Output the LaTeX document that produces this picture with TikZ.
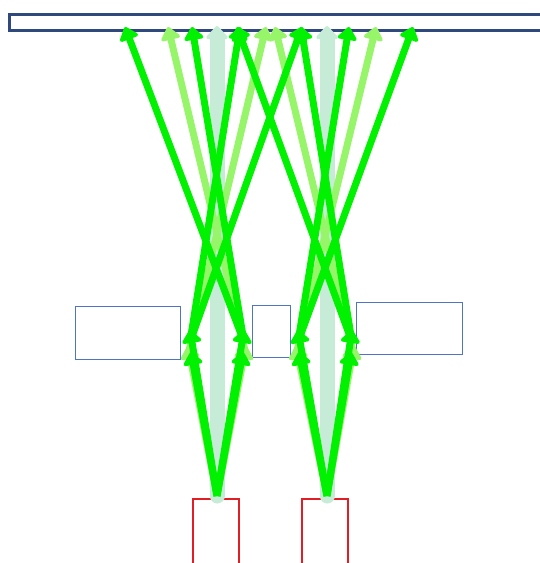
\documentclass[tikz,border=0pt]{standalone}
\usetikzlibrary{arrows.meta}
\definecolor{bright}{RGB}{0,242,0}
\definecolor{lightg}{RGB}{150,245,105}
\definecolor{mint}{RGB}{198,236,216}
\definecolor{navy}{RGB}{47,72,125}
\definecolor{boxblue}{RGB}{80,115,195}
\definecolor{srcred}{RGB}{225,30,35}
\tikzset{
  raybright/.style={draw=bright, line width=7pt, -{Triangle[width=22pt,length=14pt,round]}},
  raylight/.style={draw=lightg, line width=7pt, -{Triangle[width=22pt,length=14pt,round]}},
  raymint/.style={draw=mint, line width=15pt, line cap=round, -{Triangle[width=25pt,length=14pt,round]}},
  lensbox/.style={draw=boxblue, line width=1.2pt, fill=white, anchor=north west, inner sep=0pt},
  srcbox/.style={draw=srcred, line width=2pt, fill=white, anchor=north west, inner sep=0pt, minimum width=46pt, minimum height=70pt},
}
\begin{document}
\begin{tikzpicture}[x=1pt,y=-1pt]
\useasboundingbox (0,0) rectangle (539,563);
\fill[white] (0,0) rectangle (539,563);
% screen bar
\node[draw=navy, line width=2.5pt, anchor=north west, inner sep=0pt, minimum width=545pt, minimum height=16pt] (bar) at (8,13) {};
% lens boxes
\node[lensbox, minimum width=105pt, minimum height=53pt] (lensL) at (75,306) {};
\node[lensbox, minimum width=38pt, minimum height=52pt] (lensM) at (252,305) {};
\node[lensbox, minimum width=106pt, minimum height=52pt] (lensR) at (356,302) {};
% sources
\node[srcbox] (srcL) at (192,498) {};
\node[srcbox] (srcR) at (301,498) {};
\coordinate (sL) at (217,496);
\coordinate (sR) at (327,496);
% lower tips
\coordinate (aL1) at (190,330); \coordinate (aL2) at (244,330);
\coordinate (bL1) at (191,352); \coordinate (bL2) at (243,352);
\coordinate (cL1) at (188,346); \coordinate (cL2) at (246,346);
\coordinate (aR1) at (298,330); \coordinate (aR2) at (352,330);
\coordinate (bR1) at (299,352); \coordinate (bR2) at (351,352);
\coordinate (cR1) at (296,346); \coordinate (cR2) at (354,346);
\coordinate (uL1) at (190,342); \coordinate (uL2) at (244,342);
\coordinate (vL1) at (188,355); \coordinate (vL2) at (246,355);
\coordinate (uR1) at (298,342); \coordinate (uR2) at (352,342);
\coordinate (vR1) at (296,355); \coordinate (vR2) at (354,355);
% top targets
\coordinate (tmL) at (217,26); \coordinate (tmR) at (327,26);
\coordinate (t1) at (125,27); \coordinate (t2) at (192,27);
\coordinate (t3) at (240,27); \coordinate (t4) at (302,27);
\coordinate (t5) at (237,27); \coordinate (t6) at (301,27);
\coordinate (t7) at (349,27); \coordinate (t8) at (413,27);
\coordinate (l1) at (168,27); \coordinate (l2) at (266,27);
\coordinate (l3) at (275,27); \coordinate (l4) at (376,27);
% mint central beams
\draw[raymint] (sL) -- (tmL);
\draw[raymint] (sR) -- (tmR);
% light green rays
\draw[raylight] (sL) -- (cL1);
\draw[raylight] (sL) -- (cL2);
\draw[raylight] (sR) -- (cR1);
\draw[raylight] (sR) -- (cR2);
\draw[raylight] (vL2) -- (l1);
\draw[raylight] (vL1) -- (l2);
\draw[raylight] (vR2) -- (l3);
\draw[raylight] (vR1) -- (l4);
% bright green rays, lower
\draw[raybright] (sL) -- (bL1);
\draw[raybright] (sL) -- (bL2);
\draw[raybright] (sR) -- (bR1);
\draw[raybright] (sR) -- (bR2);
\draw[raybright] (sL) -- (aL1);
\draw[raybright] (sL) -- (aL2);
\draw[raybright] (sR) -- (aR1);
\draw[raybright] (sR) -- (aR2);
% bright green rays, upper
\draw[raybright] (uL2) -- (t1);
\draw[raybright] (uL2) -- (t2);
\draw[raybright] (uL1) -- (t3);
\draw[raybright] (uL1) -- (t4);
\draw[raybright] (uR2) -- (t5);
\draw[raybright] (uR2) -- (t6);
\draw[raybright] (uR1) -- (t7);
\draw[raybright] (uR1) -- (t8);
\end{tikzpicture}
\end{document}
